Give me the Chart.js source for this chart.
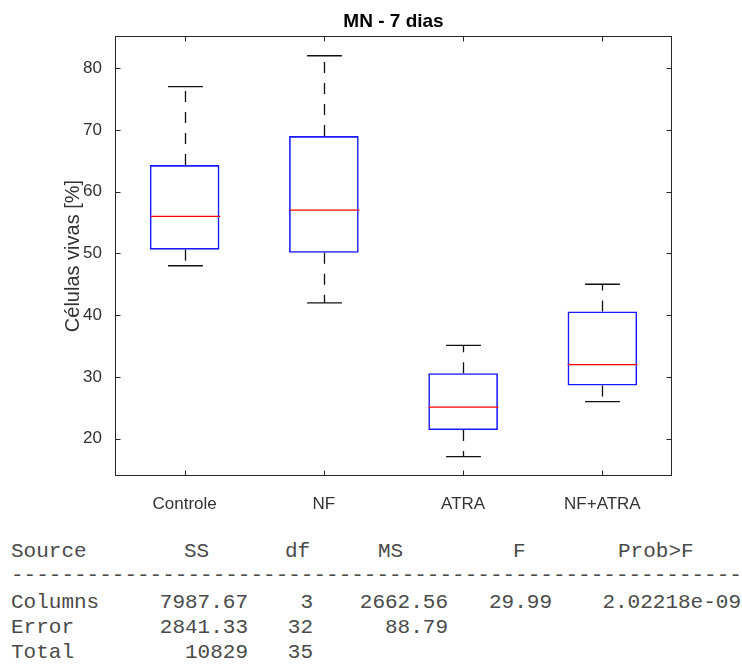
<!DOCTYPE html>
<html>
<head>
<meta charset="utf-8">
<script src="https://cdn.jsdelivr.net/npm/chart.js@4.4.0/dist/chart.umd.min.js"></script>
<style>
  body { margin: 0; background: #fff; width: 742px; height: 672px; position: relative; overflow: hidden; }
  #wrap { position: absolute; left: 0; top: 0; width: 742px; height: 510px; }
  .cell { position: absolute; font-family: "Courier New", "Liberation Mono", monospace; font-size: 21px;
          line-height: 1; color: #4a4a4a; white-space: pre; transform: translateY(-50%); }
</style>
</head>
<body>
<div id="wrap"><canvas id="myChart"></canvas></div>
<div id="tbl"></div>
<script>
"use strict"
// box plot values
let groups = ['Controle', 'NF', 'ATRA', 'NF+ATRA'];
let whiskerLow = [48, 42, 17.1, 26];
let q1 = [50.6, 50.1, 21.4, 28.6];
let median = [56, 57, 25.1, 32];
let q3 = [64.3, 69, 30.6, 40.6];
let whiskerHigh = [77, 82, 35.1, 45];
let yTicks = [20, 30, 40, 50, 60, 70, 80];
let yMin = 13.95;
let yMax = 85.2;

// anova table
let tableHead = ['Source', 'SS', 'df', 'MS', 'F', 'Prob>F'];
let rowNames = ['Columns', 'Error', 'Total'];
let ssCol = ['7987.67', '2841.33', '10829'];
let dfCol = ['3', '32', '35'];
let msCol = ['2662.56', '88.79', ''];
let fCol = ['29.99', '', ''];
let probCol = ['2.02218e-09', '', ''];

function line(ctx, x1, y1, x2, y2) {
    ctx.beginPath();
    ctx.moveTo(x1, y1);
    ctx.lineTo(x2, y2);
    ctx.stroke();
}

// whiskers, caps, medians and the boxed frame with inward ticks
const boxExtras = {
    id: 'boxExtras',
    afterDatasetsDraw(chart) {
        let ctx = chart.ctx;
        let a = chart.chartArea;
        let x = chart.scales.x;
        let y = chart.scales.y;
        let band = x.getPixelForValue(1) - x.getPixelForValue(0);
        ctx.save();
        for (let i = 0; i < groups.length; i++) {
            let cx = Math.round(x.getPixelForValue(i)) + 0.5;
            let cap = band * 0.125;
            ctx.strokeStyle = '#111';
            ctx.lineWidth = 1.3;
            ctx.setLineDash([11, 10]);
            line(ctx, cx, y.getPixelForValue(q3[i]), cx, y.getPixelForValue(whiskerHigh[i]));
            line(ctx, cx, y.getPixelForValue(q1[i]), cx, y.getPixelForValue(whiskerLow[i]));
            ctx.setLineDash([]);
            let yh = y.getPixelForValue(whiskerHigh[i]);
            let yl = y.getPixelForValue(whiskerLow[i]);
            line(ctx, cx - cap, yh, cx + cap, yh);
            line(ctx, cx - cap, yl, cx + cap, yl);
            let bw = band * 0.25;
            let ym = y.getPixelForValue(median[i]);
            ctx.strokeStyle = '#ff0000';
            ctx.lineWidth = 1.3;
            line(ctx, cx - bw, ym, cx + bw, ym);
        }
        // frame
        ctx.strokeStyle = '#262626';
        ctx.lineWidth = 1;
        let L = Math.round(a.left) + 0.5, R = Math.round(a.right) - 0.5;
        let T = Math.round(a.top) + 0.5, B = Math.round(a.bottom) - 0.5;
        ctx.strokeRect(L, T, R - L, B - T);
        yTicks.forEach(v => {
            let py = Math.round(y.getPixelForValue(v)) + 0.5;
            line(ctx, L, py, L + 5, py);
            line(ctx, R, py, R - 5, py);
        });
        for (let i = 0; i < groups.length; i++) {
            let px = Math.round(x.getPixelForValue(i)) + 0.5;
            line(ctx, px, B, px, B - 5);
            line(ctx, px, T, px, T + 5);
        }
        ctx.restore();
    }
};

let boxes = [];
for (let i = 0; i < groups.length; i++) {
    boxes.push([q1[i], q3[i]]);
}

let font17 = { family: '"Liberation Sans", Arial, sans-serif', size: 17 };

let ctx = document.getElementById('myChart').getContext('2d');
let myChart = new Chart(ctx, {
    type: 'bar',
    data: {
        labels: groups,
        datasets: [{
            data: boxes,
            backgroundColor: 'rgba(0,0,0,0)',
            borderColor: '#1a1aff',
            borderWidth: 1.6,
            borderSkipped: false,
            barPercentage: 0.5,
            categoryPercentage: 1
        }]
    },
    options: {
        responsive: true,
        maintainAspectRatio: false,
        animation: false,
        // left padding + empty right axis keep the title centred on the plot box
        layout: { padding: { left: 45, right: 0, top: 0, bottom: 0 } },
        plugins: {
            legend: { display: false },
            tooltip: { enabled: false },
            title: {
                display: true,
                text: 'MN - 7 dias',
                color: '#000',
                font: { family: '"Liberation Sans", Arial, sans-serif', size: 19, weight: 'bold' },
                padding: { top: 10, bottom: 3.2 }
            }
        },
        scales: {
            x: {
                grid: { display: false },
                border: { display: false },
                ticks: { color: '#333', padding: 10, maxRotation: 0, font: font17 },
                afterFit: function (s) { s.height = 34; }
            },
            y: {
                min: yMin,
                max: yMax,
                grid: { display: false },
                border: { display: false },
                ticks: { color: '#333', padding: 5, font: font17 },
                afterBuildTicks: function (s) {
                    s.ticks = yTicks.map(v => ({ value: v }));
                },
                title: {
                    display: true,
                    text: 'Células vivas [%]',
                    color: '#333',
                    padding: { top: 16, bottom: 0 },
                    font: { family: '"Liberation Sans", Arial, sans-serif', size: 20 }
                },
                afterFit: function (s) { s.width = 70; }
            },
            y2: {
                position: 'right',
                display: true,
                min: yMin,
                max: yMax,
                grid: { display: false },
                border: { display: false },
                ticks: { display: false },
                afterFit: function (s) { s.width = 70; }
            }
        }
    },
    plugins: [boxExtras]
});

// table text
let tbl = document.getElementById('tbl');
function put(text, x, y, right) {
    let d = document.createElement('div');
    d.className = 'cell';
    d.textContent = text;
    d.style.top = y + 'px';
    if (right) {
        d.style.right = (742 - x) + 'px';
    } else {
        d.style.left = x + 'px';
    }
    tbl.appendChild(d);
}
let headX = [11, 184, 285, 378, 513, 618];
for (let i = 0; i < tableHead.length; i++) {
    put(tableHead[i], headX[i], 551, false);
}
put('-'.repeat(58), 11, 575, false);
let rowY = [602, 627, 652];
let colRight = [248, 313, 448, 552, 741];
let cols = [ssCol, dfCol, msCol, fCol, probCol];
for (let r = 0; r < rowNames.length; r++) {
    put(rowNames[r], 11, rowY[r], false);
    for (let c = 0; c < cols.length; c++) {
        if (cols[c][r] !== '') {
            put(cols[c][r], colRight[c], rowY[r], true);
        }
    }
}
</script>
</body>
</html>
